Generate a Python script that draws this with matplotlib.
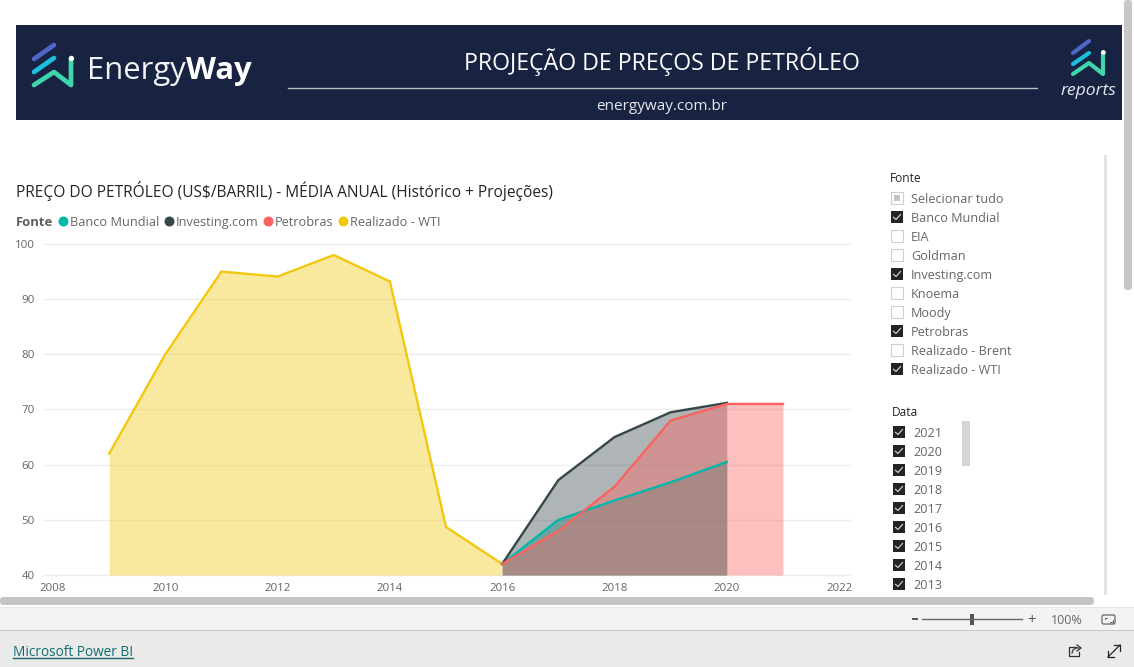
import matplotlib
matplotlib.use('Agg')
import matplotlib.pyplot as plt
from matplotlib.patches import Rectangle, FancyBboxPatch

plt.rcParams['font.family'] = ['Open Sans', 'DejaVu Sans']

# data
anos_wti = [2009, 2010, 2011, 2012, 2013, 2014, 2015, 2016]
wti = [62, 80, 95, 94.1, 98, 93.2, 48.7, 42]
anos_inv = [2016, 2017, 2018, 2019, 2020]
investing = [42, 57.2, 65, 69.5, 71.2]
anos_bm = [2016, 2017, 2018, 2019, 2020]
banco_mundial = [42, 50, 53.5, 56.8, 60.5]
anos_petro = [2016, 2017, 2018, 2019, 2020, 2021]
petrobras = [42, 48, 56, 68, 71, 71]

xticks = [2008, 2010, 2012, 2014, 2016, 2018, 2020, 2022]
yticks = [40, 50, 60, 70, 80, 90, 100]

legend_names = ['Banco Mundial', 'Investing.com', 'Petrobras', 'Realizado - WTI']
legend_colors = ['#01B8AA', '#374649', '#FD625E', '#F2C80F']
legend_x = [63, 169, 268, 342.5]

fonte_items = ['Selecionar tudo', 'Banco Mundial', 'EIA', 'Goldman', 'Investing.com',
               'Knoema', 'Moody', 'Petrobras', 'Realizado - Brent', 'Realizado - WTI']
fonte_checked = [None, True, False, False, True, False, False, True, False, True]
data_items = ['2021', '2020', '2019', '2018', '2017', '2016', '2015', '2014', '2013']

W, H = 1134, 667
fig = plt.figure(figsize=(W / 100, H / 100), dpi=100, facecolor='white')

# overlay in pixel coordinates for the report furniture
bg = fig.add_axes([0, 0, 1, 1], zorder=0)
bg.set_xlim(0, W)
bg.set_ylim(H, 0)
bg.axis('off')


def px(v):
    return v * 0.72


def box(x, y, w, h, color, ax=bg, **kw):
    ax.add_patch(Rectangle((x, y), w, h, facecolor=color, edgecolor='none', **kw))


def logo(strokes, dot, lw):
    for (xs, ys), c in strokes:
        bg.plot(xs, ys, color=c, lw=lw, solid_capstyle='round', solid_joinstyle='round')
    bg.plot([dot[0]], [dot[1]], 'o', color='white', ms=lw * 1.1, mew=0)


# banner
box(16, 25, 1106, 95, '#182241')
logo([(([34, 54], [59, 45]), '#4F66C4'),
      (([34, 54], [72, 58]), '#1CBFE0'),
      (([34, 54, 71, 71], [85, 72, 85, 58]), '#3FD6AE')], (71, 58), 3.4)
logo([(([1073, 1089], [53, 41]), '#4F66C4'),
      (([1073, 1089], [64, 53]), '#1CBFE0'),
      (([1073, 1089, 1103, 1103], [74, 63, 74, 52]), '#3FD6AE')], (1103, 52), 3.0)
t = bg.text(87, 79, 'Energy', color='#F2F3F6', fontsize=px(31), va='baseline', ha='left')
fig.canvas.draw()
ext = t.get_window_extent()
bg.text(ext.x1, 79, 'Way', color='white', fontsize=px(31), va='baseline', ha='left', weight='bold')
bg.text(1088, 95, 'reports', color='#E8E9EE', fontsize=px(17.5), style='italic', va='baseline', ha='center')
bg.text(662, 70, 'PROJEÇÃO DE PREÇOS DE PETRÓLEO', color='white', fontsize=px(23.1), va='baseline', ha='center')
bg.plot([288, 1037], [88, 88], color='#B9BCC6', lw=1.0)
bg.text(662, 110, 'energyway.com.br', color='#E6E8EE', fontsize=px(15.2), va='baseline', ha='center')

# chart title and legend
bg.text(16, 197, 'PREÇO DO PETRÓLEO (US$/BARRIL) - MÉDIA ANUAL (Histórico + Projeções)',
        color='#252423', fontsize=px(15.5), va='baseline', ha='left')
bg.text(16, 226, 'Fonte', color='#605E5C', fontsize=px(13), weight='bold', va='baseline', ha='left')
for name, c, x in zip(legend_names, legend_colors, legend_x):
    bg.plot([x], [221], 'o', color=c, ms=7.2, mew=0)
    bg.text(x + 7, 226, name, color='#666666', fontsize=px(12.8), va='baseline', ha='left')

# chart
left, right, top, bottom = 43, 850, 244, 575
ax = fig.add_axes([left / W, 1 - bottom / H, (right - left) / W, (bottom - top) / H], zorder=1)
ax.patch.set_alpha(0)
ax.set_ylim(40, 100)
ax.set_xlim(2008 - 10 / 56.15, 2008 + (850 - 53) / 56.15)
for s in ax.spines.values():
    s.set_visible(False)
ax.set_xticks(xticks)
ax.set_yticks(yticks)
ax.tick_params(length=0, labelsize=px(11.5), labelcolor='#666666')
ax.tick_params(axis='x', pad=6)
ax.tick_params(axis='y', pad=6)
ax.grid(axis='y', color='#EDEDED', lw=1)
ax.set_axisbelow(True)
for line in ax.get_ygridlines():
    line.set_clip_on(False)
    line.set_solid_capstyle('butt')

# red goes on top of the others, that gives the brown overlap
series = [(anos_wti, wti, '#F2C80F'), (anos_bm, banco_mundial, '#01B8AA'),
          (anos_inv, investing, '#374649'), (anos_petro, petrobras, '#FD625E')]
for xs, ys, c in series:
    ax.fill_between(xs, ys, 40, color=c, alpha=0.4, lw=0)
for xs, ys, c in series:
    ax.plot(xs, ys, color=c, lw=1.7, solid_joinstyle='miter')

# slicers
front = fig.add_axes([0, 0, 1, 1], zorder=2)
front.set_xlim(0, W)
front.set_ylim(H, 0)
front.axis('off')
front.patch.set_alpha(0)


def checkbox(x, y, state):
    s = 12.5
    if state is True:
        box(x, y - s / 2, s, s, '#252423', ax=front)
        front.plot([x + 3, x + 5.5, x + 10], [y + 0.3, y + 2.5, y - 2.5], color='#DDDDDD', lw=0.8)
    else:
        front.add_patch(Rectangle((x, y - s / 2), s, s, facecolor='white', edgecolor='#CFCFCF', lw=0.8))
        if state is None:
            box(x + 3, y - 3.2, 6.5, 6.5, '#C4C4C4', ax=front)


front.text(890, 182, 'Fonte', color='#252423', fontsize=px(12), va='baseline', ha='left')
for i, (name, state) in enumerate(zip(fonte_items, fonte_checked)):
    y = 198 + i * 19
    checkbox(890.5, y, state)
    front.text(911, y + 5, name, color='#666666', fontsize=px(12.6), va='baseline', ha='left')

front.text(892, 416, 'Data', color='#252423', fontsize=px(12), va='baseline', ha='left')
for i, name in enumerate(data_items):
    y = 432 + i * 19
    checkbox(892.5, y, True)
    front.text(913, y + 5, name, color='#666666', fontsize=px(12.6), va='baseline', ha='left')
box(962, 421, 8, 45, '#D6D6D6', ax=front)

# scrollbars and footer
box(1104, 155, 3, 440, '#E4E4E4', ax=front)
front.add_patch(FancyBboxPatch((1124, 0), 8, 290, boxstyle='round,pad=0,rounding_size=3',
                               facecolor='#C8C8C8', edgecolor='none'))
front.add_patch(FancyBboxPatch((0, 597), 1094, 8, boxstyle='round,pad=0,rounding_size=3',
                               facecolor='#C4C4C4', edgecolor='none'))
box(0, 607, W, 23, '#F3F3F3', ax=front)
box(0, 607, W, 1, '#E6E6E6', ax=front)
box(0, 630, W, 37, '#EAEAEA', ax=front)
box(0, 630, W, 1, '#C8C8C8', ax=front)

front.text(13, 656, 'Microsoft Power BI', color='#0F6B6E', fontsize=px(13.6), va='baseline', ha='left')
front.plot([13, 133], [658, 658], color='#0F6B6E', lw=1)

# zoom bar
front.plot([913, 917], [619, 619], color='#555555', lw=1.4)
front.plot([922, 1022], [619, 619], color='#666666', lw=1)
box(970, 614, 4, 11, '#555555', ax=front)
front.text(1032, 624, '+', color='#555555', fontsize=px(15), va='baseline', ha='center')
front.text(1067, 624, '100%', color='#666666', fontsize=px(12.5), va='baseline', ha='center')

# fit to page icon
front.add_patch(FancyBboxPatch((1102, 615), 13, 9, boxstyle='round,pad=0,rounding_size=1.5',
                               facecolor='none', edgecolor='#666666', lw=0.9))
front.plot([1104.5, 1104.5, 1107], [619, 617.5, 617.5], color='#666666', lw=0.7)
front.plot([1112.5, 1112.5, 1110], [620, 621.5, 621.5], color='#666666', lw=0.7)

# share icon
front.plot([1076, 1069, 1069, 1079, 1079], [647, 647, 656, 656, 652], color='#333333', lw=0.9)
front.plot([1072, 1073, 1076, 1079], [653, 650, 648, 648], color='#333333', lw=0.9)
front.plot([1077, 1081, 1077], [645, 648, 651], color='#333333', lw=0.9)

# expand icon
front.plot([1108, 1120], [657, 645], color='#222222', lw=0.9)
front.plot([1114, 1120, 1120], [645, 645, 651], color='#222222', lw=0.9)
front.plot([1108, 1108, 1114], [651, 657, 657], color='#222222', lw=0.9)

fig.savefig('out.png', dpi=100, facecolor='white')
